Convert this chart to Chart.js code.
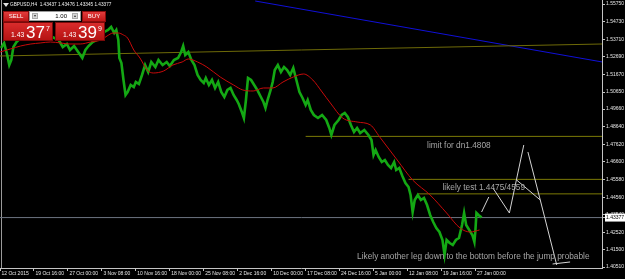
<!DOCTYPE html>
<html><head><meta charset="utf-8">
<script src="https://cdn.jsdelivr.net/npm/chart.js@4/dist/chart.umd.min.js"></script>
<style>
html,body{margin:0;padding:0;background:#000;}
#wrap{position:relative;width:625px;height:279px;overflow:hidden;background:#000;}
#c{position:absolute;left:0;top:0;}
.ui{position:absolute;box-sizing:border-box;font-family:"Liberation Sans",Arial,sans-serif;color:#fff;white-space:nowrap;}
.hdr{left:10px;top:2px;font-size:4.7px;line-height:6px;color:#f0f0f0;}
.ico{left:3px;top:3px;width:0;height:0;border-left:3px solid transparent;border-right:3px solid transparent;border-top:4px solid #e0e0e0;}
.btn{top:11px;height:11px;background:linear-gradient(#e23c3c,#bf1717);border:1px solid #8a0c0c;font-size:6px;line-height:9px;text-align:center;}
.lot{left:29px;top:11px;width:52px;height:10px;background:#fff;border:1px solid #9a9a9a;}
.lot .arr{position:absolute;top:1px;width:6px;height:6px;background:#d8d8d8;border:1px solid #aaa;box-sizing:border-box;font-size:4px;line-height:4px;text-align:center;color:#333;}
.lot .v{position:absolute;right:13px;top:0;font-size:6px;line-height:8px;color:#000;}
.big{top:22px;height:19px;width:50px;background:linear-gradient(#d92c2c,#b51212);border:1px solid #7a0a0a;}
.big .s{position:absolute;bottom:2px;font-size:6.8px;line-height:7px;}
.big .l{position:absolute;top:1px;font-size:17px;line-height:17px;}
.big .p{position:absolute;top:2px;font-size:7px;line-height:7px;}
</style></head><body>
<div id="wrap">
<canvas id="c" width="625" height="279"></canvas>
<div class="ui ico"></div>
<div class="ui hdr">GBPUSD,H4&nbsp; 1.43437 1.43476 1.43345 1.43377</div>
<div class="ui btn" style="left:3px;width:26px;">SELL</div>
<div class="ui lot"><div class="arr" style="left:2px">▾</div><div class="v">1.00</div><div class="arr" style="right:2px">▴</div></div>
<div class="ui btn" style="left:82px;width:24px;">BUY</div>
<div class="ui big" style="left:3px;"><span class="s" style="left:7px">1.43</span><span class="l" style="left:22px">37</span><span class="p" style="left:42px">7</span></div>
<div class="ui big" style="left:55px;"><span class="s" style="left:7px">1.43</span><span class="l" style="left:22px">39</span><span class="p" style="left:42px">9</span></div>
</div>
<script>
// ---- axis labels ----
const xTickBars = [0, 33, 66, 99, 132, 165, 198, 231, 264, 297, 330, 363, 396, 429, 462];
const xTickLabels = ['12 Oct 2015', '19 Oct 16:00', '27 Oct 00:00', '3 Nov 08:00', '10 Nov 16:00', '18 Nov 00:00', '25 Nov 08:00', '2 Dec 16:00', '10 Dec 00:00', '17 Dec 08:00', '24 Dec 16:00', '5 Jan 00:00', '12 Jan 08:00', '19 Jan 16:00', '27 Jan 00:00'];
const yTickValues = [1.55750, 1.54730, 1.53710, 1.52690, 1.51670, 1.50650, 1.49660, 1.48640, 1.47620, 1.46600, 1.45580, 1.44560, 1.43540, 1.42520, 1.41500, 1.40510];
const currentPrice = 1.43377;

// ---- GBPUSD H4 price (bar index, close) ----
const priceBars = [1,4,7,9,11,13,16,20,30,39,49,57,61,65,68,72,76,80,83,86,90,94,98,101,105,108,111,113,115,116,118,120,122,124,127,130,132,135,138,141,144,147,151,154,158,162,165,169,173,176,178,180,183,186,189,192,195,198,200,203,206,209,212,215,218,221,224,227,230,232,235,237,239,241,244,247,250,253,256,258,260,263,265,267,270,273,276,279,282,285,288,291,294,297,299,302,305,309,313,317,320,322,325,329,332,335,338,341,344,347,350,354,358,361,363,365,368,371,374,377,380,383,385,388,391,394,397,399,401,403,406,409,412,415,418,421,424,427,430,432,434,437,440,443,446,449,451,453,456,459,461,462,463,465,468];
const priceClose = [1.53201,1.53491,1.52795,1.52216,1.52506,1.53259,1.53549,1.53780,1.53954,1.53780,1.53896,1.53665,1.53259,1.53433,1.53085,1.53317,1.52969,1.52622,1.53085,1.53317,1.53549,1.53665,1.53896,1.54128,1.54244,1.54418,1.54070,1.54244,1.53665,1.52622,1.52332,1.51347,1.50478,1.50652,1.51057,1.50942,1.51231,1.51115,1.51637,1.52216,1.51811,1.52390,1.52100,1.52506,1.52216,1.52390,1.52158,1.52506,1.52622,1.52969,1.53317,1.52795,1.52969,1.52506,1.52216,1.51637,1.51347,1.51173,1.51463,1.51057,1.51347,1.50884,1.51231,1.50652,1.50362,1.50768,1.50884,1.50478,1.50188,1.49957,1.49493,1.49145,1.50188,1.51463,1.51347,1.51057,1.50768,1.50420,1.50072,1.49725,1.50188,1.50768,1.51231,1.51926,1.52216,1.51811,1.52100,1.51926,1.51637,1.52042,1.51347,1.50652,1.50304,1.49899,1.50188,1.49609,1.49319,1.49145,1.49319,1.49030,1.48566,1.48161,1.48740,1.49030,1.49319,1.49435,1.49203,1.48740,1.48334,1.48566,1.48276,1.48450,1.48161,1.47871,1.47002,1.47291,1.46886,1.46596,1.46712,1.46422,1.46249,1.46596,1.46133,1.46249,1.45785,1.45380,1.45148,1.44684,1.43699,1.44395,1.44684,1.44395,1.44511,1.44105,1.43526,1.43120,1.42772,1.42541,1.42077,1.41208,1.42077,1.41903,1.41787,1.42077,1.42193,1.42946,1.43641,1.42946,1.42657,1.42367,1.41961,1.42657,1.43641,1.43526,1.43377];

// ---- moving average (red) ----
const maBars = [0,10,20,30,39,49,59,68,78,88,98,104,110,115,120,124,130,136,143,149,159,168,177,183,192,201,214,227,236,246,256,265,275,285,295,304,313,321,333,347,360,369,386,401,418,434,447,457,466];
const maValues = [1.52969,1.53143,1.53317,1.53433,1.53491,1.53549,1.53491,1.53433,1.53433,1.53549,1.53665,1.53896,1.54070,1.54070,1.53954,1.53780,1.53085,1.52622,1.51926,1.51753,1.51869,1.52216,1.52390,1.52564,1.52390,1.52100,1.51521,1.51057,1.50768,1.50710,1.50884,1.50884,1.51231,1.51521,1.51695,1.51347,1.50652,1.50015,1.49145,1.48914,1.48740,1.48045,1.46712,1.45553,1.44684,1.43641,1.42772,1.42541,1.42657];

// ---- drawn objects ----
const blueTrendBars = [248, 600];
const blueTrendValues = [1.55924, 1.52236];
const oliveTrendBars = [0, 600];
const oliveTrendValues = [1.52738, 1.53451];
const levelValues = [1.4808, 1.4559, 1.4475];
const levelStartBars = [297, 397, 406];
const projBars = [468, 475, null, 479, 495, 509, null, 513, 525, 541, null, 502, 525, null, 537, 554];
const projValues = [1.43699, 1.44568, null, 1.45090, 1.43641, 1.47581, null, 1.47176, 1.44395, 1.40629, null, 1.45553, 1.44395, null, 1.40687, 1.40803];
const noteTexts = ['limit for dn1.4808', 'likely test 1.4475/4559', 'Likely another leg down to the bottom before the jump probable'];
const noteBars = [415, 430, 347];
const noteValues = [1.47523, 1.45090, 1.41100];

const zip = (xs, ys) => xs.map((x, i) => ({x: x, y: ys[i]}));
const FONT = '"Liberation Sans", Arial, sans-serif';

const datasets = [
  {data: zip(oliveTrendBars, oliveTrendValues), borderColor: '#6e6a08', borderWidth: 1, order: 10},
  {data: zip(blueTrendBars, blueTrendValues), borderColor: '#1010d8', borderWidth: 1, order: 10},
  {data: zip([0, 600], [currentPrice, currentPrice]), borderColor: '#6c7480', borderWidth: 1, order: 9},
];
levelValues.forEach((v, i) => datasets.push({data: zip([levelStartBars[i], 600], [v, v]), borderColor: '#7c7a06', borderWidth: 1, order: 9}));
datasets.push({data: zip(priceBars, priceClose), borderColor: '#14a814', borderWidth: 2.6, order: 5});
datasets.push({data: zip(maBars, maValues), borderColor: '#c80a0a', borderWidth: 1, order: 4, cubicInterpolationMode: 'monotone', tension: 0.4});
datasets.push({data: zip(projBars, projValues), borderColor: '#d4d4d4', borderWidth: 1, order: 3, spanGaps: false});

const notesPlugin = {
  id: 'notes',
  beforeDatasetsDraw(chart) {
    const {ctx, chartArea} = chart;
    ctx.save();
    ctx.strokeStyle = '#9a9a9a';
    ctx.lineWidth = 1;
    ctx.beginPath();
    ctx.moveTo(1.5, chartArea.top);
    ctx.lineTo(1.5, chartArea.bottom);
    ctx.stroke();
    ctx.restore();
  },
  afterDatasetsDraw(chart) {
    const {ctx, scales} = chart;
    ctx.save();
    ctx.font = '8.3px ' + FONT;
    ctx.fillStyle = '#a6a6a6';
    ctx.textBaseline = 'middle';
    ctx.textAlign = 'left';
    noteTexts.forEach((t, i) => ctx.fillText(t, scales.x.getPixelForValue(noteBars[i]), scales.y.getPixelForValue(noteValues[i])));
    ctx.restore();
  }
};

new Chart(document.getElementById('c'), {
  type: 'line',
  data: {datasets: datasets},
  options: {
    responsive: false, animation: false, devicePixelRatio: 1,
    layout: {padding: 0},
    plugins: {legend: {display: false}, tooltip: {enabled: false}},
    elements: {point: {radius: 0}, line: {tension: 0}},
    scales: {
      x: {
        type: 'linear', min: 0, max: 585, position: 'bottom',
        afterBuildTicks: s => { s.ticks = xTickBars.map(v => ({value: v})); },
        afterFit: s => { s.height = 11; s.paddingLeft = 0; s.paddingRight = 0; },
        ticks: {autoSkip: false, maxRotation: 0, minRotation: 0, align: 'start', labelOffset: 1.5, padding: 0,
          color: '#e6e6e6', font: {size: 5, family: FONT},
          callback: v => xTickLabels[xTickBars.indexOf(v)]},
        grid: {drawOnChartArea: false, drawTicks: true, tickLength: 3, color: '#c4c4c4'},
        border: {display: true, color: '#c4c4c4'}
      },
      y: {
        type: 'linear', position: 'right', min: 1.40455, max: 1.55982,
        afterBuildTicks: s => { s.ticks = yTickValues.concat([currentPrice]).map(v => ({value: v})); },
        afterFit: s => { s.width = 23; s.paddingTop = 0; s.paddingBottom = 0; },
        ticks: {autoSkip: false, padding: 1, font: {size: 5, family: FONT},
          color: c => c.tick && c.tick.value === currentPrice ? '#000' : '#e6e6e6',
          showLabelBackdrop: true,
          backdropColor: c => c.tick && c.tick.value === currentPrice ? '#ffffff' : 'rgba(0,0,0,0)',
          backdropPadding: {left: 1, right: 4, top: 1, bottom: 1},
          callback: v => v.toFixed(5)},
        grid: {drawOnChartArea: false, drawTicks: true, tickLength: 3, color: '#c4c4c4'},
        border: {display: true, color: '#c4c4c4'}
      }
    }
  },
  plugins: [notesPlugin]
});
</script>
</body></html>
